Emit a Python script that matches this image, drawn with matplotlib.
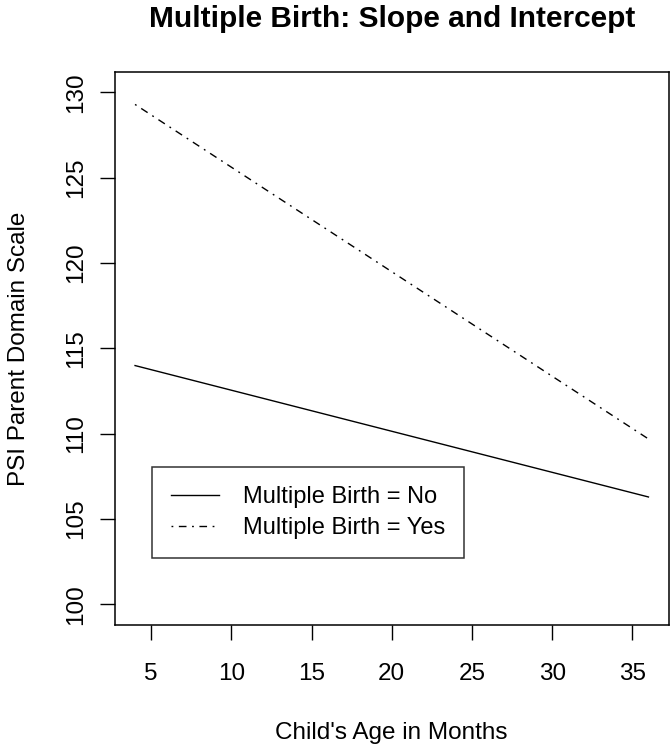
import matplotlib
matplotlib.use("Agg")
import matplotlib.pyplot as plt

plt.rcParams['font.family'] = ['Liberation Sans', 'DejaVu Sans']

# Data (fitted lines at age 4 and 36 months)
age = [4, 36]
psi_no = [114.0, 106.3]
psi_yes = [129.3, 109.7]
x_ticks = [5, 10, 15, 20, 25, 30, 35]
y_ticks = [100, 105, 110, 115, 120, 125, 130]

fs = 17.5

fig = plt.figure(figsize=(6.72, 7.5), dpi=100)
ax = fig.add_axes([0.1704, 0.1667, 0.8251, 0.7373])

ax.plot(age, psi_no, color='black', lw=1.0, linestyle='-',
        label='Multiple Birth = No')
ax.plot(age, psi_yes, color='black', lw=1.0,
        linestyle=(0, (1.3, 4, 5.5, 4)),
        label='Multiple Birth = Yes')

ax.set_xlim(2.72, 37.28)
ax.set_ylim(98.8, 131.2)
ax.set_xticks(x_ticks)
ax.set_yticks(y_ticks)
ax.tick_params(direction='out', length=10.5, width=1, labelsize=fs)
ax.tick_params(axis='x', pad=17)
ax.tick_params(axis='y', pad=9.4)
for lab in ax.get_yticklabels():
    lab.set_rotation(90)
    lab.set_va('center')
for s in ax.spines.values():
    s.set_linewidth(1.1)

ax.set_xlabel("Child's Age in Months", fontsize=fs, va='top')
ax.xaxis.set_label_coords(0.5, -0.1754)
ax.set_ylabel("PSI Parent Domain Scale", fontsize=fs)
ax.yaxis.set_label_coords(-0.152, 0.5)
fig.suptitle("Multiple Birth: Slope and Intercept", fontsize=21.5,
             fontweight='bold', x=0.583, y=0.993, va='top')

leg = ax.legend(loc='lower left', bbox_to_anchor=(0.0676, 0.121),
                fontsize=17, frameon=True, fancybox=False,
                edgecolor='black', handlelength=2.05, handletextpad=1.0,
                borderpad=0.8, labelspacing=0.38, borderaxespad=0)
leg.get_frame().set_linewidth(1.1)

fig.savefig("out.png", dpi=100)
